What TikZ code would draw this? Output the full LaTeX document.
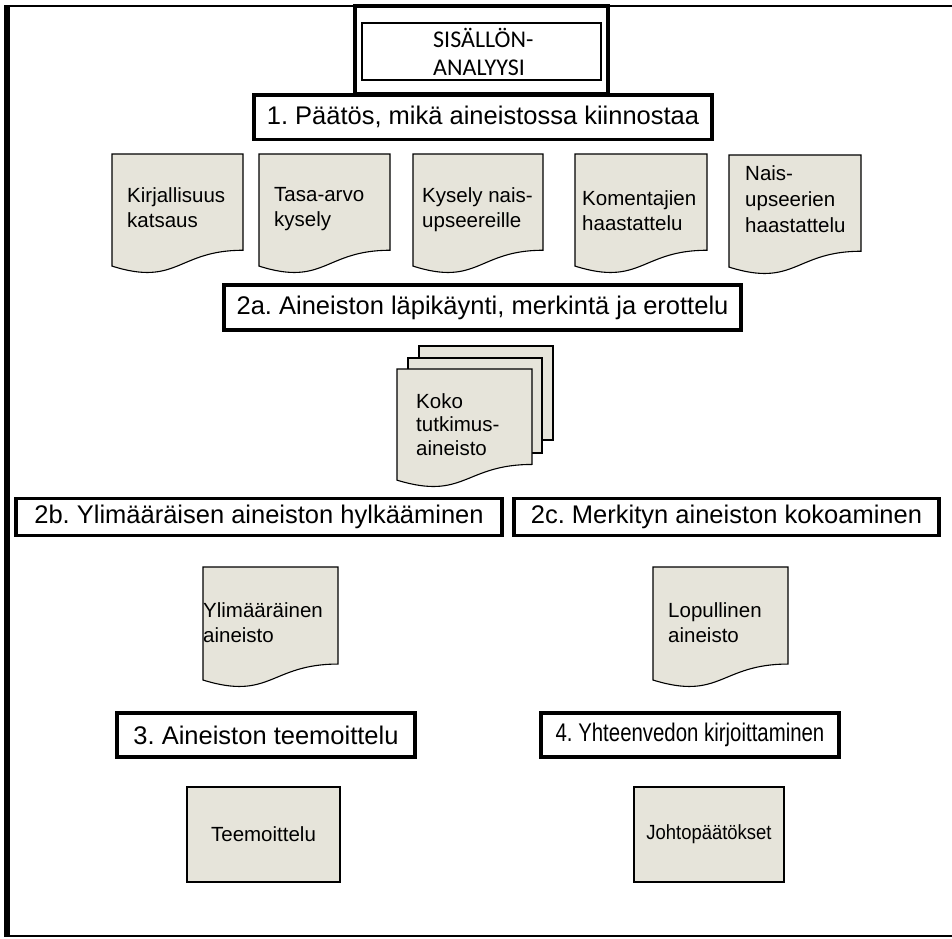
\documentclass[tikz,border=0pt]{standalone}
\usepackage{fontspec}
\setmainfont{Liberation Sans}
\newfontfamily\calibri{Carlito}
\definecolor{docfill}{RGB}{230,228,218}
\begin{document}
\frenchspacing
\begin{tikzpicture}[x=1pt,y=-1pt,
  stepbox/.style={draw=black, line width=3.5pt, fill=white, inner sep=0pt,
    font=\fontsize{25.5}{30}\selectfont},
  docline/.style={draw=black, line width=1.1pt, fill=docfill},
  doctext/.style={anchor=north west, align=left, inner sep=0pt,
    font=\fontsize{20.5}{25}\selectfont},
  plainbox/.style={draw=black, line width=1.1pt, fill=docfill, inner sep=0pt,
    font=\fontsize{20.5}{25}\selectfont},
  pics/docshape/.style 2 args={code={
    \path[docline] (0,0) -- (#1,0) -- (#1,{0.802*#2})
      .. controls ({#1/2},{0.802*#2}) and ({#1/2},{1.1075*#2}) .. (0,{0.934*#2}) -- cycle;
  }}
]
\useasboundingbox (0,0) rectangle (952,938);
% outer frame
\draw[line width=6pt] (7,5) -- (7,937);
\draw[line width=2.5pt] (4,6) -- (952,6);
\draw[line width=2.5pt] (4,936) -- (952,936);

% title
\draw[line width=3.5pt] (355,6) rectangle (608,94);
\draw[line width=2.2pt] (362,23) rectangle (601,80);
\node[anchor=north west, align=left, inner sep=0pt, font=\calibri\fontsize{24}{28}\selectfont] (title) at (433,28) {SISÄLLÖN-\\ANALYYSI};

% step 1
\node[stepbox, minimum width=458pt, minimum height=44.5pt] (s1) at (483,117) {1. Päätös, mikä aineistossa kiinnostaa};

% documents row
\pic at (112,154) {docshape={131}{120}};
\pic at (259,154) {docshape={131}{120}};
\pic at (413,154) {docshape={130}{120}};
\pic at (575,154) {docshape={132}{120}};
\pic at (729,155) {docshape={132}{120}};
\node[doctext] (d1) at (127,187) {Kirjallisuus\\katsaus};
\node[doctext] (d2) at (274,187) {Tasa-arvo\\kysely};
\node[doctext] (d3) at (422,187) {Kysely nais-\\upseereille};
\node[doctext] (d4) at (582,190) {Komentajien\\haastattelu};
\node[doctext, font=\fontsize{20.5}{26}\selectfont] (d5) at (745,165) {Nais-\\upseerien\\haastattelu};

% step 2a
\node[stepbox, minimum width=517pt, minimum height=45pt] (s2a) at (482.5,307.5) {2a. Aineiston läpikäynti, merkintä ja erottelu};

% stacked documents
\path[docline] (419,346) rectangle (553,440);
\path[docline] (408,358) rectangle (542,453);
\pic at (397,369) {docshape={135}{119}};
\node[doctext, font=\fontsize{20.5}{23.5}\selectfont] (all) at (416,393) {Koko\\tutkimus-\\aineisto};

% step 2b / 2c
\node[stepbox, minimum width=486pt, minimum height=37pt] (s2b) at (259,517) {2b. Ylimääräisen aineiston hylkääminen};
\node[stepbox, minimum width=425pt, minimum height=37pt] (s2c) at (726.5,517) {2c. Merkityn aineiston kokoaminen};

% documents
\pic at (203,567) {docshape={135}{121}};
\pic at (653,567) {docshape={135}{121}};
\node[doctext] (extra) at (203,602) {Ylimääräinen\\aineisto};
\node[doctext] (final) at (668,602) {Lopullinen\\aineisto};

% step 3 / 4
\node[stepbox, minimum width=298pt, minimum height=44pt] (s3) at (266,735) {3. Aineiston teemoittelu};
\node[stepbox, minimum width=298pt, minimum height=44pt] (s4) at (690,735) {\scalebox{0.8}[1]{4. Yhteenvedon kirjoittaminen}};

% results
\node[plainbox, minimum width=153pt, minimum height=95pt] (theme) at (263.5,834.5) {Teemoittelu};
\node[plainbox, minimum width=150pt, minimum height=95pt] (concl) at (709,834.5) {\scalebox{0.9}[1]{Johtopäätökset}};
\end{tikzpicture}
\end{document}
